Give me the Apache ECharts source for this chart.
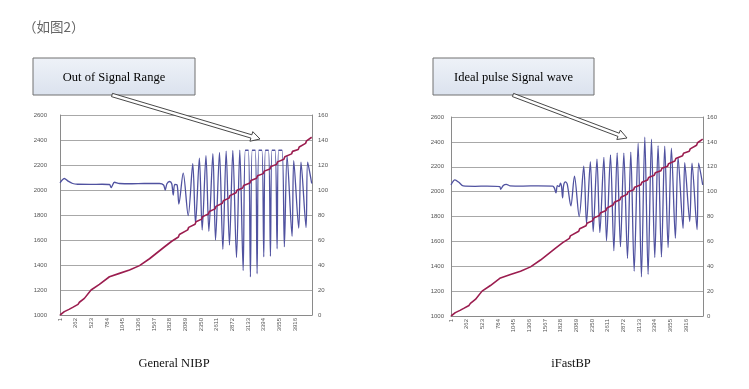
<!DOCTYPE html>
<html>
<head>
<meta charset="utf-8">
<script src="https://cdn.jsdelivr.net/npm/echarts@6/dist/echarts.min.js"></script>
<style>
html,body{margin:0;padding:0;background:#fff;}
#c{width:749px;height:389px;}
</style>
</head>
<body>
<div id="c"></div>
<script>
// ---------- data ----------
const xTickLabels = ['1','262','523','784','1045','1306','1567','1828','2089','2350','2611','2872','3133','3394','3655','3916'];
const leftAxisTicks = [1000, 2600, 200];   // min, max, step (signal)
const rightAxisTicks = [0, 160, 20];       // min, max, step (pressure)

// General NIBP oscillation signal [sample, value] (left axis)
const nibpSignal = [
  [0,2057],[33,2078],[72,2092],[128,2073],[211,2052],[295,2046],[500,2045],[700,2046],[823,2044],[851,2020],[906,2062],[990,2052],
  [1200,2050],[1400,2052],[1657,2052],[1724,2040],[1752,2000],[1780,2050],[1824,2068],[1860,2050],[1885,1960],[1910,2045],[1950,2040],
  [1979,1888],[2051,2135],[2134,1795],[2210,2210],[2256,1730],[2320,2255],[2367,1680],[2430,2275],[2478,1670],[2545,2290],
  [2589,1600],[2655,2300],[2711,1525],[2766,2310],[2821,1560],[2877,2316],[2938,1460],[2993,2318],
  [3049,1355],[3085,2318],[3135,2318],[3170,1305],[3200,2318],[3250,2318],[3281,1330],[3310,2318],[3360,2318],
  [3392,1465],[3420,2318],[3470,2318],[3503,1470],[3530,2318],[3580,2318],[3614,1530],[3640,2318],[3697,2318],
  [3735,1545],[3780,2275],[3863,1630],[3891,2235],[3974,1695],[4012,2222],[4096,1700],[4123,2222],[4190,2052]
];

// iFastBP oscillation signal [sample, value] (left axis)
const fastSignal = [
  [0,2054],[66,2094],[130,2075],[204,2046],[400,2043],[600,2044],[811,2040],[827,2019],[870,2050],[921,2059],[980,2047],
  [1200,2045],[1450,2046],[1693,2045],[1720,2030],[1748,1990],[1770,2048],[1800,2040],[1822,2068],[1840,2040],[1858,1950],[1875,2050],[1905,2078],[1935,2060],
  [1995,1885],[2055,2125],[2134,1799],[2210,2205],[2256,1745],[2320,2240],[2367,1678],[2430,2262],[2478,1670],[2545,2276],
  [2589,1605],[2655,2296],[2711,1525],[2766,2312],[2821,1557],[2877,2310],[2938,1463],[2993,2318],
  [3049,1360],[3115,2390],[3170,1315],[3226,2438],[3281,1335],[3337,2422],[3392,1470],[3447,2370],[3503,1475],[3558,2365],
  [3614,1550],[3669,2350],[3735,1625],[3780,2275],[3863,1705],[3891,2232],[3974,1760],[4012,2229],[4096,1695],[4123,2229],[4190,2054]
];

// cuff pressure [sample, value] (right axis)
const cuffPressure = [
  [0,0],[72,2.7],[150,4.5],[211,6.1],[300,8.5],[323,10.2],[345,9.6],[406,13.3],[517,20],[656,24.5],[823,30.6],[990,33.3],
  [1157,36],[1324,39.5],[1490,45],[1741,54.6],[1860,59],
  [1971,62.4],[1987,64.4],[2126,68.1],[2142,70.1],[2248,72.6],[2264,74.6],[2359,76.7],[2375,78.7],[2470,80.8],[2486,82.8],
  [2581,84.9],[2597,86.9],[2703,89.4],[2719,91.4],[2813,93.5],[2829,95.5],[2930,97.8],[2946,99.8],[3041,101.6],[3057,103.6],
  [3162,105.6],[3178,107.6],[3273,109.4],[3289,111.4],[3384,113.1],[3400,115.1],[3495,116.8],[3511,118.8],[3606,120.5],[3622,122.5],
  [3727,124.6],[3743,126.6],[3855,128.9],[3871,130.9],[3966,132.4],[3982,134.4],[4088,137.3],[4104,139.3],[4190,142.2]
];

const captions = ['General NIBP', 'iFastBP'];
const callouts = ['Out of Signal Range', 'Ideal pulse Signal wave'];
const pageTitle = '（如图2）';

// ---------- chart ----------
const TICK_STEP = 261;
const X_MAX = 4195;
const gridColor = '#a8a8a8';
const labelColor = '#555';
const tickFont = 'Liberation Sans';

function xLabel(v){
  const i = Math.round(v / TICK_STEP);
  if (Math.abs(v - i*TICK_STEP) < 0.5 && i < xTickLabels.length) return xTickLabels[i];
  return '';
}
const plain = v => String(v);

function xAxis(gi){
  return {
    type:'value', gridIndex:gi, min:0, max:X_MAX, interval:TICK_STEP,
    axisLine:{show:true, lineStyle:{color:'#8a8a8a', width:1}},
    axisTick:{show:false},
    splitLine:{show:false},
    axisLabel:{formatter:xLabel, rotate:90, fontSize:6, color:labelColor, fontFamily:tickFont, margin:3, showMaxLabel:false}
  };
}
function yLeft(gi, margin){
  return {
    type:'value', gridIndex:gi, position:'left', min:leftAxisTicks[0], max:leftAxisTicks[1], interval:leftAxisTicks[2],
    axisLine:{show:true, lineStyle:{color:'#8a8a8a', width:1}},
    axisTick:{show:false},
    splitLine:{show:true, lineStyle:{color:gridColor, width:1}},
    axisLabel:{formatter:plain, fontSize:6, color:labelColor, fontFamily:tickFont, margin:margin}
  };
}
function yRight(gi, margin){
  return {
    type:'value', gridIndex:gi, position:'right', min:rightAxisTicks[0], max:rightAxisTicks[1], interval:rightAxisTicks[2],
    axisLine:{show:true, lineStyle:{color:'#8a8a8a', width:1}},
    axisTick:{show:false},
    splitLine:{show:false},
    axisLabel:{formatter:plain, fontSize:6, color:labelColor, fontFamily:tickFont, margin:margin}
  };
}
function sigSeries(data, xi, yi){
  return {type:'line', xAxisIndex:xi, yAxisIndex:yi, data:data, showSymbol:false, symbol:'none',
    smooth:0.3, lineStyle:{color:'#5052a0', width:1.3}, z:2, animation:false};
}
function presSeries(data, xi, yi){
  return {type:'line', xAxisIndex:xi, yAxisIndex:yi, data:data, showSymbol:false, symbol:'none',
    lineStyle:{color:'#9b1d4f', width:1.6}, z:3, animation:false};
}

function arrowPoly(sx, sy, tx, ty, sh, hh, hl){
  const dx=tx-sx, dy=ty-sy, L=Math.hypot(dx,dy), ux=dx/L, uy=dy/L, nx=-uy, ny=ux;
  const bx=tx-ux*hl, by=ty-uy*hl;
  return [[sx+nx*sh, sy+ny*sh],[bx+nx*sh, by+ny*sh],[bx+nx*hh, by+ny*hh],[tx,ty],
          [bx-nx*hh, by-ny*hh],[bx-nx*sh, by-ny*sh],[sx-nx*sh, sy-ny*sh]];
}
function callout(x, y, w, h, text){
  return [
    {type:'rect', shape:{x:x, y:y, width:w, height:h}, z:10,
      style:{fill:new echarts.graphic.LinearGradient(0,0,0,1,[{offset:0,color:'#eef2f8'},{offset:1,color:'#dbe2ee'}]),
             stroke:'#707070', lineWidth:1}},
    {type:'text', x:x+w/2, y:y+h/2+1, z:11,
      style:{text:text, fill:'#000', font:'12.5px "Liberation Serif"', textAlign:'center', textVerticalAlign:'middle'}}
  ];
}
function arrow(sx, sy, tx, ty){
  return {type:'polygon', z:12, shape:{points:arrowPoly(sx, sy, tx, ty, 1.7, 5, 9)},
    style:{fill:'#fff', stroke:'#333', lineWidth:0.9}};
}

const chart = echarts.init(document.getElementById('c'), null, {renderer:'canvas'});
chart.setOption({
  animation:false,
  backgroundColor:'#fff',
  grid:[
    {left:60, top:115, width:252, height:200},
    {left:451, top:117, width:252, height:199}
  ],
  xAxis:[xAxis(0), xAxis(1)],
  yAxis:[yLeft(0, 13), yRight(0, 6), yLeft(1, 7), yRight(1, 4)],
  series:[
    sigSeries(nibpSignal, 0, 0),
    presSeries(cuffPressure, 0, 1),
    sigSeries(fastSignal, 1, 2),
    presSeries(cuffPressure, 1, 3)
  ],
  graphic:[
    {type:'text', x:23, y:27, style:{text:pageTitle, fill:'#666', font:'13.5px "Noto Sans CJK SC"', textVerticalAlign:'middle'}},
    ...callout(33, 58, 162, 37, callouts[0]),
    ...callout(433, 58, 161, 37, callouts[1]),
    arrow(112, 95, 260, 139),
    arrow(513, 95, 627, 138),
    {type:'text', x:174, y:364, style:{text:captions[0], fill:'#111', font:'12.5px "Liberation Serif"', textAlign:'center', textVerticalAlign:'middle'}},
    {type:'text', x:571, y:364, style:{text:captions[1], fill:'#111', font:'12.5px "Liberation Serif"', textAlign:'center', textVerticalAlign:'middle'}}
  ]
});
</script>
</body>
</html>
